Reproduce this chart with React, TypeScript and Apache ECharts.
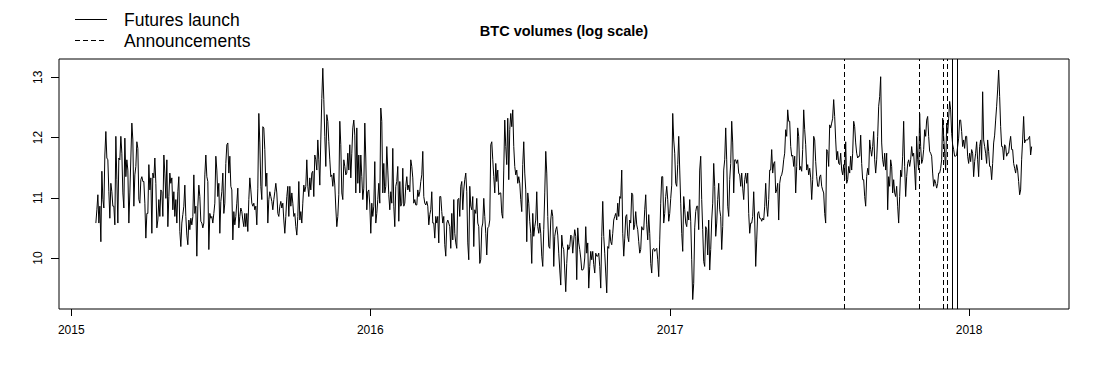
import React, { useEffect, useRef } from 'react';
import * as echarts from 'echarts';

const FONT = '"Liberation Sans", Arial, Helvetica, sans-serif';

// First observation and spacing between consecutive observations (days)
const firstObservation = '2015-01-31';
const observationStepDays = 1.2205;

// log BTC volumes, in chronological order
const volumesFebAug2015 = [
  10.58, 10.8, 11.05, 10.58, 10.86, 10.27, 11.44, 10.97, 10.83, 11.71,
  12.1, 11.66, 11.63, 11.1, 10.66, 11.24, 11.1, 10.86, 10.86, 10.55,
  12.02, 11.3, 10.58, 11.66, 11.63, 12.02, 11.74, 11.08, 10.83, 11.99,
  11.35, 11.63, 11.46, 10.58, 11.08, 11.66, 12.24, 11.96, 10.86, 11.38,
  11.52, 11.93, 11.82, 10.97, 10.91, 11.3, 11.35, 11.27, 11.27, 10.91,
  10.33, 10.74, 10.74, 11.55, 11.13, 11.33, 10.41, 11.41, 11.33, 11.66,
  11.24, 10.5, 10.63, 10.97, 10.69, 11.13, 11.1, 10.69, 11.71, 11.41,
  10.99, 11.63, 10.52, 11.02, 11.41, 11.24, 11.33, 10.8, 11.1, 10.69,
  10.97, 10.58, 11.1, 11.35, 10.44, 10.19, 10.58, 10.72, 10.86, 11.21,
  10.69, 10.38, 10.22, 10.63, 10.47, 10.66, 10.55, 10.69, 11.38, 10.74,
  10.86, 10.03, 10.86, 11.21, 11.02, 10.61, 10.58, 10.5, 10.58, 11.38,
  11.71, 11.35, 11.27, 10.14, 10.74, 10.66, 10.69, 10.58, 10.74, 10.91,
  11.69, 11.46, 11.02, 11.24, 10.41, 10.94, 11.1, 11.41, 10.74, 10.91,
  11.57, 11.88, 11.91, 11.41, 11.69, 11.19, 11.13, 10.3, 10.77, 10.55,
  10.69, 10.91, 11.16, 10.5, 10.69, 10.83, 10.77, 10.63, 10.52, 10.74,
  10.52, 10.74, 10.44, 10.97,
];

const volumesAug2015Jan2016 = [
  11.33, 11.13, 10.91, 10.86, 10.91, 10.8, 10.86, 10.55, 11.16, 12.4,
  11.91, 11.19, 10.97, 12.18, 12.16, 11.8, 11.19, 11.41, 10.58, 10.97,
  11.1, 11.02, 10.94, 10.8, 10.97, 11.1, 11.24, 11.08, 10.74, 10.69,
  10.86, 10.94, 10.83, 10.91, 10.63, 10.41, 10.69, 11.02, 11.19, 10.69,
  11.19, 10.86, 11.08, 10.91, 10.69, 10.74, 10.52, 10.38, 10.69, 11.27,
  10.63, 10.77, 10.58, 10.91, 11.21, 11.1, 11.19, 11.63, 11.19, 11.02,
  11.33, 11.13, 11.41, 11.44, 11.02, 11.71, 11.63, 11.46, 11.96, 11.63,
  11.21, 11.96, 12.65, 13.15, 12.63, 12.02, 11.52, 12.38, 12.27, 11.93,
  11.63, 11.35, 11.38, 11.19, 11.41, 11.21, 10.83, 10.52, 10.69, 11.05,
  12.27, 11.88, 11.08, 10.97, 11.63, 11.52, 11.38, 11.41, 11.74, 11.46,
  11.88, 11.33, 11.74, 12.16, 12.29, 12.04, 11.08, 12.16, 11.24, 11.71,
  11.08, 11.71, 11.35, 10.97, 11.16, 12.24, 11.66, 10.8, 11.1, 11.13,
  10.88, 10.41, 10.91, 10.69, 10.86, 11.6, 10.58, 10.74, 10.97, 11.24,
  10.91, 12.49, 12.27, 11.08, 11.57, 11.08, 11.19, 11.85, 11.46, 11.05,
  10.8, 11.1, 10.91, 11.82, 10.86, 10.52, 11.19, 11.27, 11.52, 10.61,
  11.27, 10.86, 10.91, 11.49, 10.86,
];

const volumesJanAug2016 = [
  10.91, 11.19, 11.35, 11.13, 11.21, 11.1, 11.63, 11.52, 11.33, 10.91,
  10.97, 10.88, 10.88, 11.13, 11.02, 11.1, 11.27, 11.38, 11.77, 11.02,
  10.91, 10.88, 10.94, 10.86, 10.55, 10.72, 10.8, 11.1, 10.58, 10.58,
  10.33, 10.69, 10.58, 10.69, 10.25, 11.02, 11.02, 10.77, 10.58, 10.69,
  10.22, 10.03, 10.58, 10.63, 10.58, 10.52, 10.16, 10.74, 10.3, 10.97,
  10.41, 10.25, 10.16, 10.97, 10.99, 10.69, 11.19, 11.27, 10.8, 11.13,
  11.3, 11.41, 11.1, 10.25, 9.97, 11.19, 10.86, 10.8, 11.02, 10.19,
  10.8, 10.74, 10.99, 10.58, 10.52, 9.91, 9.97, 10.5, 10.58, 10.99,
  10.69, 10.41, 10.05, 10.5, 10.52, 10.63, 11.88, 11.93, 11.63, 11.35,
  11.08, 11.57, 11.27, 11.46, 11.05, 11.08, 11.08, 10.74, 10.66, 11.46,
  12.29, 11.85, 11.55, 12.32, 11.3, 12.13, 12.4, 12.18, 12.46, 11.85,
  11.52, 11.38, 11.46, 11.24, 11.35, 11.24, 10.97, 10.77, 11.55, 11.93,
  11.41, 11.13, 10.27, 11.08, 10.91, 10.61, 10.41, 9.91, 10.74, 10.36,
  10.52, 10.63, 11.1, 10.52, 10.41, 10.58, 10.41, 10.03, 9.86, 10.47,
  11.08, 11.77, 11.41, 10.69, 10.19, 10.16, 10.63, 10.8, 10.69, 9.86,
  10.36, 10.47, 10.52, 10.38, 10.08,
];

const volumesAug2016Feb2017 = [
  9.8, 9.55, 10.38, 10.19, 10.14, 9.8, 9.44, 9.91, 10.22, 10.14,
  10.19, 10.38, 10.36, 10.08, 10.3, 10.47, 10.36, 9.64, 10.5, 10.25,
  10.14, 10.0, 9.8, 9.8, 9.83, 10.0, 10.52, 10.08, 10.25, 9.5,
  9.86, 10.11, 9.97, 10.11, 9.89, 9.75, 10.08, 10.03, 10.03, 10.08,
  9.86, 9.5, 10.36, 10.94, 10.36, 10.08, 9.75, 9.42, 10.19, 10.16,
  10.47, 10.27, 10.22, 10.41, 10.63, 10.69, 10.74, 10.63, 10.91, 10.69,
  11.02, 10.99, 11.46, 10.41, 10.03, 10.33, 10.69, 10.72, 10.36, 10.27,
  10.63, 10.58, 11.08, 11.05, 10.47, 10.55, 10.77, 10.55, 10.47, 10.27,
  10.08, 10.14, 10.52, 10.47, 10.47, 10.8, 11.05, 10.55, 10.3, 10.72,
  10.41, 9.91, 9.75, 10.14, 10.16, 10.11, 10.14, 10.16, 9.97, 9.69,
  10.3, 10.91, 11.35, 11.35, 10.58, 10.74, 11.02, 11.19, 10.97, 10.61,
  10.74, 10.99, 11.21, 12.4, 11.96, 11.74, 11.24, 11.19, 11.55, 12.02,
  11.46, 10.91, 10.41, 10.11, 11.02, 10.8, 10.58, 10.52, 10.77, 10.63,
  10.97, 10.61, 9.97, 9.31, 9.58, 10.5, 10.77, 10.86, 10.86, 10.47,
  11.46, 11.69, 10.97, 10.47, 9.94, 9.86, 10.52, 10.47, 10.05, 10.63,
  9.8, 10.14, 10.63, 10.91, 11.57,
];

const volumesFebAug2017 = [
  11.19, 10.36, 10.58, 10.97, 11.24, 10.8, 10.69, 10.14, 10.52, 11.46,
  11.63, 12.16, 11.63, 10.86, 10.69, 11.3, 11.57, 12.27, 11.91, 11.08,
  11.63, 11.63, 11.57, 11.63, 11.41, 11.38, 11.19, 11.41, 11.16, 10.97,
  11.3, 11.41, 11.24, 11.41, 10.74, 10.41, 10.58, 10.58, 10.69, 11.1,
  10.63, 9.86, 10.3, 10.74, 10.77, 10.66, 10.66, 10.61, 10.66, 10.63,
  10.86, 11.24, 10.86, 10.69, 10.97, 11.46, 11.46, 11.8, 11.41, 11.57,
  11.6, 11.08, 11.13, 11.24, 10.63, 11.24, 11.35, 11.38, 11.46, 11.63,
  11.74, 12.13, 12.02, 12.46, 12.27, 12.27, 11.85, 11.69, 11.71, 11.52,
  11.69, 11.08, 11.52, 12.16, 12.02, 11.46, 11.52, 11.44, 11.8, 12.46,
  12.13, 11.88, 11.46, 11.55, 11.38, 11.49, 11.33, 10.97, 11.3, 12.02,
  11.96, 11.6, 11.35, 11.19, 11.19, 11.35, 11.38, 11.19, 11.13, 11.08,
  10.74, 10.58, 11.8, 11.77, 11.52, 12.21, 12.16, 12.24, 12.32, 12.63,
  12.35, 11.96, 11.63, 11.77, 11.57, 11.55, 11.74, 11.46, 11.38, 11.55,
  11.3, 11.93, 11.24, 11.3, 11.52, 11.41, 11.69, 11.46, 11.74, 12.27,
  12.18, 11.91, 11.74, 11.66, 11.69, 11.69, 12.04, 11.57, 11.3, 11.3,
  11.02, 10.86, 11.35, 11.49, 11.38,
];

const volumesAug2017Mar2018 = [
  11.96, 11.8, 11.69, 11.85, 12.1, 11.63, 11.41, 11.63, 12.02, 12.52,
  12.68, 13.01, 11.91, 11.63, 11.52, 11.74, 11.46, 11.74, 10.8, 11.35,
  11.19, 11.63, 11.52, 11.08, 11.3, 11.08, 11.02, 11.19, 10.86, 10.58,
  11.02, 11.46, 11.35, 11.69, 12.27, 11.52, 11.02, 11.35, 11.57, 11.63,
  11.52, 11.63, 11.85, 11.69, 11.74, 11.46, 11.13, 12.02, 11.63, 11.46,
  12.4, 11.85, 11.57, 11.63, 11.8, 12.13, 12.02, 12.29, 12.35, 12.02,
  11.77, 11.74, 11.69, 11.41, 11.19, 11.3, 11.24, 11.16, 11.24, 11.41,
  11.41, 11.49, 11.63, 12.32, 12.02, 11.74, 11.46, 12.24, 12.07, 12.32,
  12.6, 12.46, 12.07, 11.88, 11.8, 11.69, 11.69, 11.71, 11.85, 11.99,
  12.29, 12.29, 12.1, 11.85, 11.96, 11.82, 12.02, 12.02, 11.69, 11.57,
  11.74, 11.6, 11.8, 11.74, 11.35, 11.6, 11.74, 11.93, 11.63, 11.35,
  11.85, 11.96, 11.63, 12.76, 11.96, 11.85, 11.74, 11.57, 11.96, 11.77,
  11.52, 11.52, 11.3, 11.57, 11.91, 12.04, 12.29, 12.52, 12.79, 13.12,
  12.68, 12.18, 11.85, 11.85, 11.63, 11.88, 11.85, 11.69, 11.74, 11.74,
  11.91, 12.02, 11.8, 11.8, 11.57, 11.49, 11.41, 11.55, 11.46, 11.27,
  11.05, 11.13, 11.63, 11.96, 12.35, 11.91, 11.96, 11.96, 11.96, 11.99,
  12.02, 11.71, 11.85,
];

const yearTicks = ['2015-01-01', '2016-01-01', '2017-01-01', '2018-01-01'];
const volumeTicks = [10, 11, 12, 13];
const announcementDates = ['2017-08-02', '2017-11-01', '2017-12-01', '2017-12-05'];
const launchDates = ['2017-12-11', '2017-12-18'];
const axisRange = { xFrom: '2014-12-17', xTo: '2018-05-03', yFrom: 9.153, yTo: 13.304 };

const DAY = 86400000;
function toTime(s: string): number {
  const [y, m, d] = s.split('-').map(Number);
  return new Date(y, m - 1, d).getTime();
}

export default function App() {
  const ref = useRef<HTMLDivElement>(null);

  useEffect(() => {
    if (!ref.current) return;
    const chart = echarts.init(ref.current, null, { renderer: 'svg' });

    const values = [
      ...volumesFebAug2015,
      ...volumesAug2015Jan2016,
      ...volumesJanAug2016,
      ...volumesAug2016Feb2017,
      ...volumesFebAug2017,
      ...volumesAug2017Mar2018,
    ];
    const t0 = toTime(firstObservation);
    const data = values.map((v, i) => [t0 + i * observationStepDays * DAY, v]);
    const tickTimes = yearTicks.map(toTime);

    const markData = [
      ...announcementDates.map((d) => ({
        xAxis: toTime(d),
        lineStyle: { type: [5, 3] as any, color: '#000', width: 1 },
      })),
      ...launchDates.map((d) => ({
        xAxis: toTime(d),
        lineStyle: { type: 'solid' as any, color: '#000', width: 1 },
      })),
    ];

    chart.setOption({
      animation: false,
      backgroundColor: '#ffffff',
      grid: {
        left: 59,
        right: 31,
        top: 59,
        bottom: 74,
        show: true,
        borderColor: '#000',
        borderWidth: 1,
        backgroundColor: 'transparent',
      },
      xAxis: {
        type: 'value',
        min: toTime(axisRange.xFrom),
        max: toTime(axisRange.xTo),
        axisLine: { show: false },
        splitLine: { show: false },
        axisTick: {
          show: true,
          length: 7,
          customValues: tickTimes,
          lineStyle: { color: '#000', width: 1 },
        },
        axisLabel: {
          customValues: tickTimes,
          formatter: (v: number) => String(new Date(v).getFullYear()),
          margin: 15,
          color: '#000',
          fontSize: 12,
          fontFamily: FONT,
        },
      },
      yAxis: {
        type: 'value',
        min: axisRange.yFrom,
        max: axisRange.yTo,
        axisLine: { show: false },
        splitLine: { show: false },
        axisTick: {
          show: true,
          length: 8,
          customValues: volumeTicks,
          lineStyle: { color: '#000', width: 1 },
        },
        axisLabel: {
          customValues: volumeTicks,
          rotate: 90,
          margin: 15,
          color: '#000',
          fontSize: 12,
          fontFamily: FONT,
        },
      },
      series: [
        {
          type: 'line',
          data,
          showSymbol: false,
          symbol: 'none',
          lineStyle: { color: '#000', width: 1 },
          silent: true,
          markLine: {
            silent: true,
            symbol: ['none', 'none'],
            label: { show: false },
            data: markData,
          },
        },
      ],
      graphic: [
        {
          type: 'text',
          x: 564,
          y: 31,
          style: {
            text: 'BTC volumes (log scale)',
            fill: '#000',
            font: `bold 14.5px ${FONT}`,
            textAlign: 'center',
            textVerticalAlign: 'middle',
          },
        },
        {
          type: 'line',
          shape: { x1: 75, y1: 19.5, x2: 107, y2: 19.5 },
          style: { stroke: '#000', lineWidth: 1 },
        },
        {
          type: 'line',
          shape: { x1: 75, y1: 40.5, x2: 107, y2: 40.5 },
          style: { stroke: '#000', lineWidth: 1, lineDash: [5, 3] },
        },
        {
          type: 'text',
          x: 124,
          y: 20,
          style: {
            text: 'Futures launch',
            fill: '#000',
            font: `17.5px ${FONT}`,
            textVerticalAlign: 'middle',
          },
        },
        {
          type: 'text',
          x: 124,
          y: 41,
          style: {
            text: 'Announcements',
            fill: '#000',
            font: `17.5px ${FONT}`,
            textVerticalAlign: 'middle',
          },
        },
      ],
    });

    return () => chart.dispose();
  }, []);

  return (
    <div
      ref={ref}
      style={{ position: 'fixed', left: 0, top: 0, width: 1100, height: 383, background: '#fff' }}
    />
  );
}
